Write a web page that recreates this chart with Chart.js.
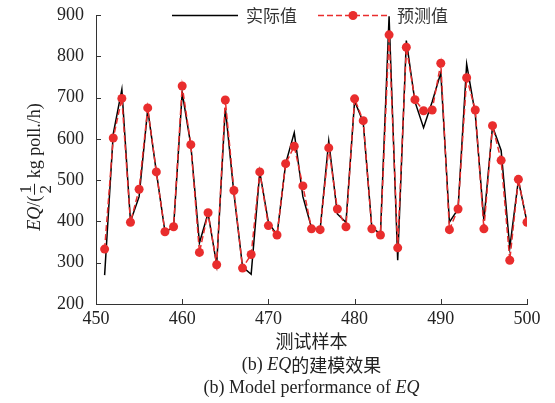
<!DOCTYPE html>
<html>
<head>
<meta charset="utf-8">
<script src="https://cdn.jsdelivr.net/npm/chart.js@4.4.0/dist/chart.umd.min.js"></script>
<style>
html,body{margin:0;padding:0;background:#fff;}
#wrap{width:555px;height:403px;position:relative;}
</style>
</head>
<body>
<div id="wrap"><canvas id="c" width="555" height="403"></canvas></div>
<script>
const samples = [451,452,453,454,455,456,457,458,459,460,461,462,463,464,465,466,467,468,469,470,471,472,473,474,475,476,477,478,479,480,481,482,483,484,485,486,487,488,489,490,491,492,493,494,495,496,497,498,499,500];
const actual = [270,612,720,400,460,672,520,375,385,712,585,348,420,295,675,468,290,272,520,398,367,540,615,460,385,380,595,418,398,692,640,385,370,897,306,838,690,627,690,760,398,430,781,660,402,630,572,336,500,398];
const predicted = [333,602,698,398,478,675,520,375,387,728,586,325,421,295,694,475,287,320,520,390,367,540,582,486,382,380,578,430,387,697,644,382,367,852,336,822,695,668,670,783,380,430,748,670,382,632,548,306,502,398];
const xTicks = [450,460,470,480,490,500];
const yTicks = [200,300,400,500,600,700,800,900];
const seriesNames = ['实际值','预测值'];
const xTitle = '测试样本';

const SERIF = '"Liberation Serif", "Times New Roman", serif';
const CJK = '"Noto Sans CJK SC", "Liberation Serif", serif';
const RED = 'rgb(233,45,45)';
const AX = '#333';

const toPts = arr => arr.map((v,i)=>({x:samples[i], y:v}));

function drawSegments(ctx, segs, cx, cy, align){
  let w = 0;
  segs.forEach(s=>{ctx.font=s.font; s.w=ctx.measureText(s.t).width; w+=s.w;});
  let x = align==='center' ? cx - w/2 : cx;
  segs.forEach(s=>{ctx.font=s.font; ctx.fillText(s.t, x, cy); x+=s.w;});
  return w;
}

const decor = {
  id:'decor',
  afterDatasetsDraw(chart){
    const ctx = chart.ctx, xs = chart.scales.x, ys = chart.scales.y, ca = chart.chartArea;
    ctx.save();
    // inward ticks
    ctx.strokeStyle = AX; ctx.lineWidth = 1;
    xTicks.forEach(v=>{
      const px = Math.round(xs.getPixelForValue(v))+0.5;
      ctx.beginPath(); ctx.moveTo(px, ca.bottom); ctx.lineTo(px, ca.bottom-5); ctx.stroke();
    });
    yTicks.forEach(v=>{
      const py = Math.round(ys.getPixelForValue(v))+0.5;
      ctx.beginPath(); ctx.moveTo(ca.left, py); ctx.lineTo(ca.left+5, py); ctx.stroke();
    });
    // legend
    const ly = 15.5;
    ctx.strokeStyle = '#000'; ctx.lineWidth = 1.5; ctx.setLineDash([]);
    ctx.beginPath(); ctx.moveTo(172, ly); ctx.lineTo(238, ly); ctx.stroke();
    ctx.fillStyle = '#333'; ctx.textBaseline = 'middle'; ctx.textAlign = 'left';
    ctx.font = '17px ' + CJK;
    ctx.fillText(seriesNames[0], 246, ly);
    ctx.strokeStyle = RED; ctx.setLineDash([6,3]);
    ctx.beginPath(); ctx.moveTo(318, ly); ctx.lineTo(387, ly); ctx.stroke();
    ctx.setLineDash([]);
    ctx.fillStyle = RED; ctx.beginPath(); ctx.arc(353, ly, 4.5, 0, Math.PI*2); ctx.fill();
    ctx.fillStyle = '#333';
    ctx.fillText(seriesNames[1], 397, ly);
    // x title and captions
    const cx = (ca.left + ca.right)/2;
    ctx.fillStyle = '#222'; ctx.textBaseline = 'middle';
    ctx.font = '18px ' + CJK; ctx.textAlign = 'center';
    ctx.fillText(xTitle, cx, 341);
    ctx.textAlign = 'left';
    drawSegments(ctx, [
      {t:'(b) ', font:'18px '+SERIF},
      {t:'EQ', font:'italic 18px '+SERIF},
      {t:'的建模效果', font:'18px '+CJK}
    ], cx, 365, 'center');
    drawSegments(ctx, [
      {t:'(b) Model performance of ', font:'18px '+SERIF},
      {t:'EQ', font:'italic 18px '+SERIF}
    ], cx, 388, 'center');
    // y title with fraction
    ctx.save();
    ctx.translate(40, 167);
    ctx.rotate(-Math.PI/2);
    ctx.textBaseline = 'alphabetic';
    const segs = [
      {t:'EQ', font:'italic 18px '+SERIF},
      {t:'/(', font:'18px '+SERIF},
      {t:'FRAC'},
      {t:' kg poll./h)', font:'18px '+SERIF}
    ];
    let total = 0;
    const fracW = 13;
    segs.forEach(s=>{ if(s.t==='FRAC'){s.w=fracW;} else {ctx.font=s.font; s.w=ctx.measureText(s.t).width;} total+=s.w; });
    let x = -total/2;
    segs.forEach(s=>{
      if(s.t==='FRAC'){
        ctx.font = '17px '+SERIF; ctx.textAlign='center';
        ctx.fillText('1', x+s.w/2, -9);
        ctx.fillText('2', x+s.w/2, 11);
        ctx.strokeStyle='#222'; ctx.lineWidth=1;
        ctx.beginPath(); ctx.moveTo(x+1, -5.5); ctx.lineTo(x+s.w-1, -5.5); ctx.stroke();
        ctx.textAlign='left';
      } else {
        ctx.font = s.font; ctx.fillText(s.t, x, 0);
      }
      x += s.w;
    });
    ctx.restore();
    ctx.restore();
  }
};

new Chart(document.getElementById('c'), {
  type:'line',
  data:{
    datasets:[
      {label:seriesNames[0], data:toPts(actual), borderColor:'#000', borderWidth:1.5, pointRadius:0, tension:0, order:1},
      {label:seriesNames[1], data:toPts(predicted), borderColor:RED, borderWidth:1.5, borderDash:[6,3], pointRadius:4.5, pointBackgroundColor:RED, pointBorderWidth:0, pointHoverRadius:4.5, tension:0, order:0}
    ]
  },
  options:{
    responsive:false, animation:false, devicePixelRatio:1,
    layout:{padding:{left:0, right:28, top:15, bottom:0}},
    plugins:{legend:{display:false}, tooltip:{enabled:false}},
    scales:{
      x:{type:'linear', min:450, max:500,
        afterBuildTicks: s=>{ s.ticks = xTicks.map(v=>({value:v})); },
        afterFit: s=>{ s.height = 99; },
        grid:{display:false}, border:{display:true, color:AX, width:1},
        ticks:{color:'#222', font:{family:SERIF, size:18}, padding:-4, maxRotation:0, autoSkip:false}
      },
      y:{type:'linear', min:200, max:900,
        afterBuildTicks: s=>{ s.ticks = yTicks.map(v=>({value:v})); },
        afterFit: s=>{ s.width = 96; },
        grid:{display:false}, border:{display:true, color:AX, width:1},
        ticks:{color:'#222', font:{family:SERIF, size:18}, padding:4}
      }
    }
  },
  plugins:[decor]
});
</script>
</body>
</html>
